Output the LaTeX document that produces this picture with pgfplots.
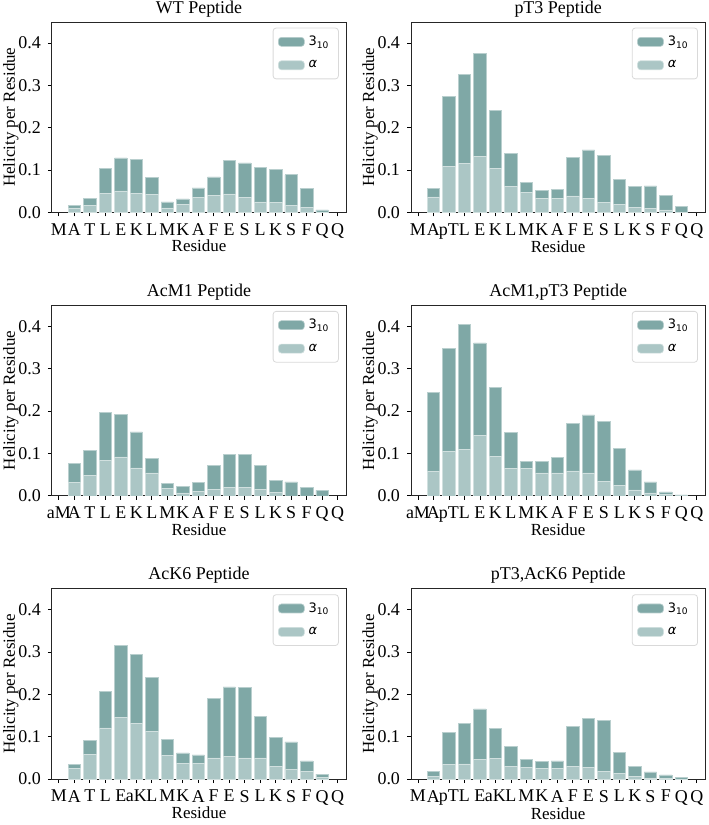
\documentclass[border=0pt]{standalone}
\usepackage{pgfplots}
\pgfplotsset{compat=1.18}
\usepackage{pgfplotstable}
\usepgfplotslibrary{groupplots}
\usetikzlibrary{calc}
\usepackage{fontspec}
\setmainfont{Liberation Serif}
\newfontfamily\legfont{DejaVu Sans}
\definecolor{tdark}{HTML}{7FA8A6}
\definecolor{tlight}{HTML}{ABC6C5}

% columns: residue index, total helicity (3_10 on top), alpha part
\pgfplotstableread{
x total alpha
1 0.016 0.011
2 0.034 0.017
3 0.104 0.046
4 0.129 0.051
5 0.125 0.046
6 0.082 0.042
7 0.025 0.011
8 0.032 0.020
9 0.058 0.036
10 0.084 0.040
11 0.123 0.044
12 0.117 0.036
13 0.106 0.025
14 0.102 0.023
15 0.089 0.016
16 0.057 0.012
17 0.006 0.000
}\wt
\pgfplotstableread{
x total alpha
1 0.056 0.037
2 0.274 0.108
3 0.326 0.116
4 0.375 0.133
5 0.242 0.104
6 0.140 0.061
7 0.071 0.048
8 0.053 0.034
9 0.054 0.034
10 0.130 0.039
11 0.148 0.034
12 0.135 0.024
13 0.079 0.019
14 0.061 0.012
15 0.063 0.009
16 0.040 0.006
17 0.015 0.000
}\ptthree
\pgfplotstableread{
x total alpha
1 0.077 0.032
2 0.107 0.048
3 0.197 0.083
4 0.192 0.092
5 0.151 0.066
6 0.088 0.054
7 0.029 0.018
8 0.023 0.007
9 0.032 0.010
10 0.072 0.015
11 0.097 0.019
12 0.097 0.019
13 0.071 0.015
14 0.036 0.008
15 0.033 0.000
16 0.019 0.000
17 0.013 0.000
}\acmone
\pgfplotstableread{
x total alpha
1 0.245 0.057
2 0.349 0.104
3 0.405 0.110
4 0.361 0.142
5 0.256 0.093
6 0.149 0.064
7 0.082 0.064
8 0.082 0.054
9 0.090 0.054
10 0.171 0.059
11 0.191 0.054
12 0.176 0.034
13 0.112 0.024
14 0.061 0.014
15 0.033 0.007
16 0.009 0.004
17 0.002 0.000
}\acmonept
\pgfplotstableread{
x total alpha
1 0.034 0.025
2 0.092 0.058
3 0.208 0.121
4 0.315 0.146
5 0.294 0.131
6 0.241 0.112
7 0.094 0.056
8 0.062 0.037
9 0.057 0.037
10 0.191 0.050
11 0.218 0.053
12 0.216 0.050
13 0.149 0.050
14 0.099 0.030
15 0.088 0.023
16 0.043 0.018
17 0.012 0.004
}\acksix
\pgfplotstableread{
x total alpha
1 0.018 0.007
2 0.110 0.034
3 0.131 0.036
4 0.166 0.047
5 0.119 0.049
6 0.077 0.030
7 0.047 0.028
8 0.041 0.026
9 0.043 0.025
10 0.124 0.030
11 0.143 0.028
12 0.138 0.019
13 0.063 0.014
14 0.030 0.007
15 0.017 0.003
16 0.010 0.002
17 0.005 0.000
}\ptacksix

\pgfplotsset{
  helix/.style={
    scale only axis, width=147.5pt, height=95.5pt,
    xmin=-0.45, xmax=18.55, ymin=0, ymax=0.45,
    xtick={0,...,18}, ytick={0,0.1,0.2,0.3,0.4},
    yticklabel style={/pgf/number format/fixed, /pgf/number format/precision=1,
      /pgf/number format/fixed zerofill},
    /pgf/number format/assume math mode=true,
    tick align=outside, tick pos=left, major tick length=2pt,
    tick style={black, line width=0.4pt},
    axis line style={black!85, line width=0.4pt},
    ticklabel style={font=\fontsize{9}{10}\selectfont},
    label style={font=\fontsize{8.5}{10}\selectfont},
    title style={font=\fontsize{9}{10}\selectfont, yshift=-7pt},
    xlabel=Residue, ylabel=Helicity per Residue,
    xlabel style={yshift=6pt}, ylabel style={yshift=-7pt},
    xticklabel style={inner xsep=0pt},
    ybar, bar width=0.8,
    legend style={at={(0.975,0.97)}, anchor=north east, draw=black!15,
      rounded corners=1.5pt, font=\legfont\fontsize{6.5}{8}\selectfont,
      inner xsep=2.5pt, inner ysep=2pt, row sep=2pt},
    legend cell align=left,
    legend image code/.code={\fill[##1] (0pt,-2pt) rectangle (13pt,2.5pt);},
  },
  darkbar/.style={bar shift=0pt, fill=tdark, draw=tdark!55!white, line width=0.3pt},
  lightbar/.style={bar shift=0pt, fill=tlight, draw=tlight!55!white, line width=0.3pt},
}

\begin{document}
\begin{tikzpicture}
\begin{groupplot}[group style={group size=2 by 3, horizontal sep=32.5pt, vertical sep=46.5pt},
  helix]
  \nextgroupplot[title={WT Peptide},
    xticklabels={M,A,T,L,E,K,L,M,K,A,F,E,S,L,K,S,F,Q,Q}]
  \addplot[darkbar] table[x=x,y=total]{\wt};
  \addlegendentry{3\textsubscript{10}}
  \addplot[lightbar] table[x=x,y=alpha]{\wt};
  \addlegendentry{\itshape α}

  \nextgroupplot[title={pT3 Peptide},
    xticklabels={M,A,pT,L,E,K,L,M,K,A,F,E,S,L,K,S,F,Q,Q}]
  \addplot[darkbar] table[x=x,y=total]{\ptthree};
  \addlegendentry{3\textsubscript{10}}
  \addplot[lightbar] table[x=x,y=alpha]{\ptthree};
  \addlegendentry{\itshape α}

  \nextgroupplot[title={AcM1 Peptide},
    xticklabels={aM,A,T,L,E,K,L,M,K,A,F,E,S,L,K,S,F,Q,Q}]
  \addplot[darkbar] table[x=x,y=total]{\acmone};
  \addlegendentry{3\textsubscript{10}}
  \addplot[lightbar] table[x=x,y=alpha]{\acmone};
  \addlegendentry{\itshape α}

  \nextgroupplot[title={AcM1,pT3 Peptide},
    xticklabels={aM,A,pT,L,E,K,L,M,K,A,F,E,S,L,K,S,F,Q,Q}]
  \addplot[darkbar] table[x=x,y=total]{\acmonept};
  \addlegendentry{3\textsubscript{10}}
  \addplot[lightbar] table[x=x,y=alpha]{\acmonept};
  \addlegendentry{\itshape α}

  \nextgroupplot[title={AcK6 Peptide},
    xticklabels={M,A,T,L,E,aK,L,M,K,A,F,E,S,L,K,S,F,Q,Q}]
  \addplot[darkbar] table[x=x,y=total]{\acksix};
  \addlegendentry{3\textsubscript{10}}
  \addplot[lightbar] table[x=x,y=alpha]{\acksix};
  \addlegendentry{\itshape α}

  \nextgroupplot[title={pT3,AcK6 Peptide},
    xticklabels={M,A,pT,L,E,aK,L,M,K,A,F,E,S,L,K,S,F,Q,Q}]
  \addplot[darkbar] table[x=x,y=total]{\ptacksix};
  \addlegendentry{3\textsubscript{10}}
  \addplot[lightbar] table[x=x,y=alpha]{\ptacksix};
  \addlegendentry{\itshape α}
\end{groupplot}
% page margins as in the reference
\pgfresetboundingbox
\path ($(group c1r1.north west)+(-26pt,11pt)$) rectangle ($(group c2r3.south east)+(1.5pt,-23pt)$);
\end{tikzpicture}
\end{document}
